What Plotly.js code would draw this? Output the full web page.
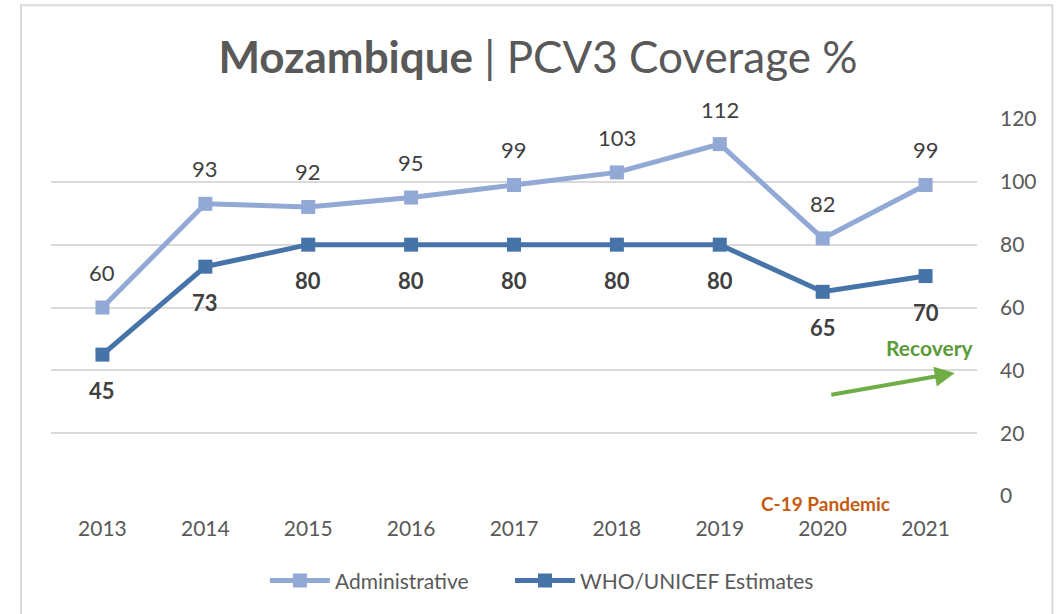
<!DOCTYPE html>
<html>
<head>
<meta charset="utf-8">
<script src="https://cdn.plot.ly/plotly-3.0.1.min.js"></script>
<style>html,body{margin:0;padding:0;background:#fff;}#chart{width:1059px;height:614px;}</style>
</head>
<body>
<div id="chart"></div>
<script>
const years = ["2013","2014","2015","2016","2017","2018","2019","2020","2021"];
const administrative = [60, 93, 92, 95, 99, 103, 112, 82, 99];
const whoUnicef = [45, 73, 80, 80, 80, 80, 80, 65, 70];
const yTicks = [0, 20, 40, 60, 80, 100, 120];

const FONT = "Lato, 'Open Sans', sans-serif";
const adminColor = "#93A9D5";
const whoColor = "#4673A8";

const traces = [
  {
    x: years, y: administrative, name: "Administrative", type: "scatter", mode: "lines+markers",
    line: {color: adminColor, width: 5},
    marker: {symbol: "square", size: 14, color: adminColor},
    cliponaxis: false, legend: "legend"
  },
  {
    x: years, y: whoUnicef, name: "WHO/UNICEF Estimates", type: "scatter", mode: "lines+markers",
    line: {color: whoColor, width: 5},
    marker: {symbol: "square", size: 14, color: whoColor},
    cliponaxis: false, legend: "legend2"
  }
];

const annotations = [];
years.forEach((yr, i) => {
  annotations.push({x: i, y: administrative[i], xref: "x", yref: "y", text: String(administrative[i]),
    showarrow: false, yshift: 35, font: {family: FONT, size: 22, color: "#404040"}});
  annotations.push({x: i, y: whoUnicef[i], xref: "x", yref: "y", text: "<b>" + whoUnicef[i] + "</b>",
    showarrow: false, yshift: -36, font: {family: FONT, size: 22, color: "#404040"}});
});
annotations.push({xref: "paper", yref: "paper", x: 0.998, y: 0.393, xanchor: "right", yanchor: "middle",
  text: "<b>Recovery</b>", showarrow: false, font: {family: FONT, size: 21, color: "#5B9A3A"}});
annotations.push({xref: "paper", yref: "paper", x: 0.836, y: -0.021, xanchor: "center", yanchor: "middle",
  text: "<b>C-19 Pandemic</b>", showarrow: false, font: {family: FONT, size: 19, color: "#C55A11"}});
annotations.push({xref: "paper", yref: "paper", x: 0.976, y: 0.326, text: "", showarrow: true,
  ax: -125, ay: 22, arrowhead: 2, arrowsize: 1, arrowwidth: 4, arrowcolor: "#70AD47"});

const legendBase = {
  orientation: "h", xanchor: "left", y: -0.225, yanchor: "middle",
  font: {family: FONT, size: 21, color: "#595959"}, itemwidth: 60, bgcolor: "rgba(0,0,0,0)"
};

const layout = {
  width: 1059, height: 614,
  margin: {l: 51, r: 82, t: 119, b: 118},
  paper_bgcolor: "#fff", plot_bgcolor: "#fff",
  font: {family: FONT, color: "#595959"},
  title: {
    text: "<b>Mozambique</b> | PCV3 Coverage %",
    font: {family: FONT, size: 44, color: "#595959"},
    x: 0.508, xanchor: "center", y: 0.907, yanchor: "middle"
  },
  xaxis: {
    type: "category", range: [-0.5, 8.5], showgrid: false, zeroline: false, showline: false,
    ticks: "", tickfont: {family: FONT, size: 21, color: "#595959"}, ticklabelstandoff: 18, fixedrange: true
  },
  yaxis: {
    side: "right", range: [0, 120], tickvals: yTicks, ticktext: yTicks.map(String),
    showgrid: true, gridcolor: "#D9D9D9", gridwidth: 2, zeroline: false, showline: false, ticks: "",
    tickfont: {family: FONT, size: 21, color: "#595959"}, ticklabelstandoff: 22, fixedrange: true
  },
  showlegend: true,
  legend: Object.assign({}, legendBase, {x: 0.231}),
  legend2: Object.assign({}, legendBase, {x: 0.4957}),
  annotations: annotations,
  shapes: [{type: "rect", xref: "paper", yref: "paper", x0: -0.0324, x1: 1.0814, y0: -0.4, y1: 1.302,
    line: {color: "#D9D9D9", width: 2}, fillcolor: "rgba(0,0,0,0)", layer: "below"}]
};

Plotly.newPlot("chart", traces, layout, {displayModeBar: false, staticPlot: true});
</script>
</body>
</html>
